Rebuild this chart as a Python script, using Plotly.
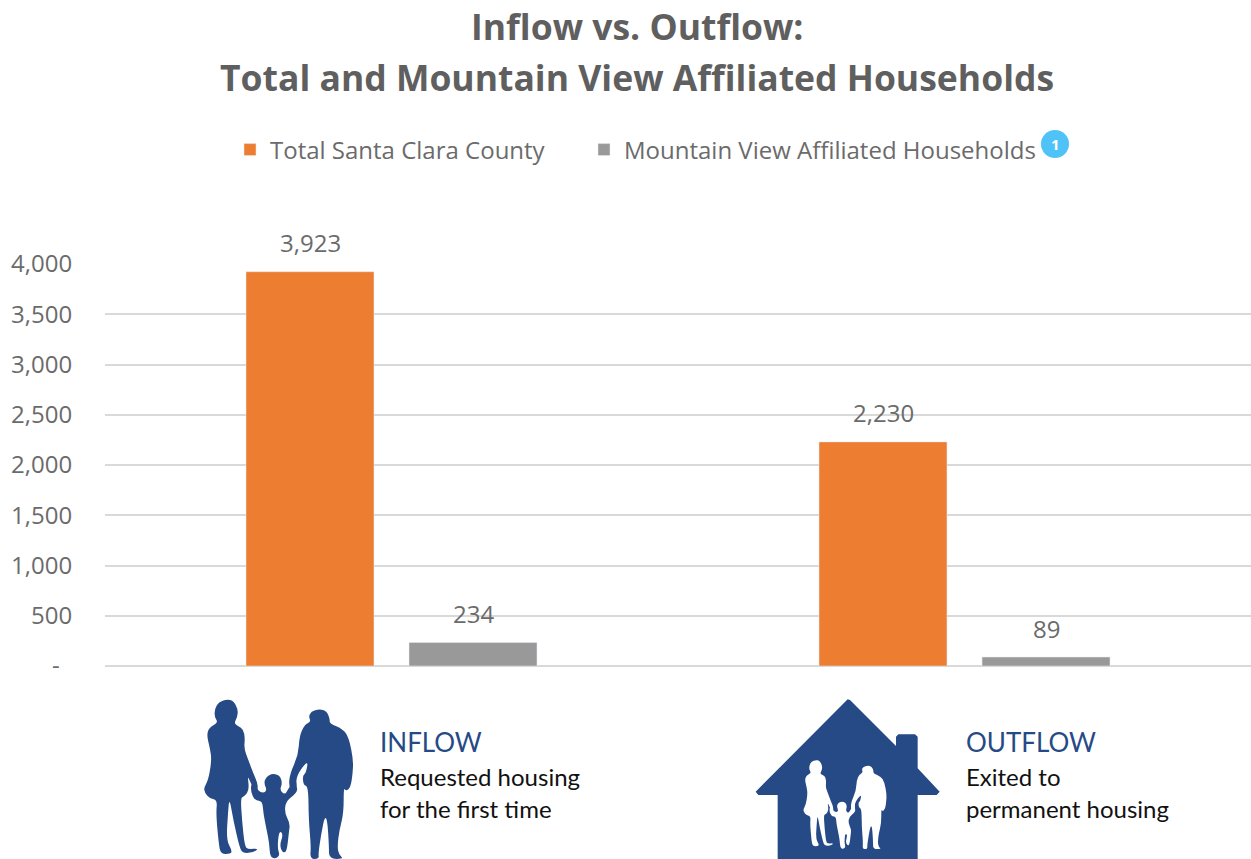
import plotly.graph_objects as go

# Chart data
categories = ["Inflow", "Outflow"]
total_county = [3923, 2230]
mountain_view = [234, 89]
total_labels = ["3,923", "2,230"]
mountain_view_labels = ["234", "89"]
tick_values = [0, 500, 1000, 1500, 2000, 2500, 3000, 3500, 4000]
tick_labels = ["-\u00a0\u00a0", "500", "1,000", "1,500", "2,000", "2,500", "3,000", "3,500", "4,000"]

WIDTH, HEIGHT = 1251, 859
MARGIN_L, MARGIN_T, MARGIN_B = 105, 264, 193
PLOT_W = WIDTH - MARGIN_L
PLOT_H = HEIGHT - MARGIN_T - MARGIN_B

ORANGE = "#ED7D31"
GREY = "#999999"
NAVY = "#264A85"
TEXT_GREY = "#6b6b6b"
FONT = "Open Sans"
CAPTION_FONT = "Lato"
BAR_OFFSET = 81.5   # pixels from a category centre to the centre of each bar in its group
LABEL_LIFT = 29     # pixels from a bar top to the middle of its value label

# Silhouette outlines, in a local 3x drawing grid
woman = [(140,58),(160,62),(174,88),(172,112),(162,130),(175,138),(190,148),(195,175),(192,205),(205,240),
         (220,280),(234,312),(230,335),(216,318),(202,285),(207,320),(202,340),(190,350),(182,355),(186,420),
         (194,498),(204,508),(236,505),(222,517),(188,520),(178,500),(160,420),(148,352),(144,400),(139,480),
         (156,512),(152,522),(122,522),(116,490),(108,400),(112,360),(90,356),(74,338),(72,322),(85,300),
         (95,240),(90,205),(80,165),(88,142),(115,128),(103,110),(105,85),(116,66)]
man = [(418,87),(440,93),(450,118),(448,130),(490,148),(507,175),(520,240),(518,280),(512,322),(498,334),
       (491,322),(491,400),(478,450),(472,500),(477,525),(492,537),(447,537),(447,500),
       (442,420),(434,410),(424,460),(415,520),(417,537),(390,537),(393,500),(386,420),(385,320),(370,315),
       (368,285),(378,280),(385,238),(347,290),(352,325),(340,340),(326,320),(330,280),(355,225),(358,170),
       (373,135),(393,125),(386,110),(393,95)]
child = [(278,280),(300,287),(307,310),(299,330),(315,345),(325,325),(340,308),(354,325),(346,342),(317,365),
         (314,400),(330,430),(327,455),(320,517),(307,517),(299,495),(310,462),(297,452),(292,505),(300,525),
         (286,537),(270,530),(268,490),(260,450),(250,400),(247,362),(225,362),(212,335),(214,308),(233,310),
         (231,330),(250,340),(261,330),(252,310),(257,291)]
house = [(323,58),(47,335),(55,345),(113,345),(113,537),(533,537),(533,345),(590,345),(599,335),(533,265),
         (533,170),(525,163),(475,163),(468,170),(468,198),(330,60)]


def page_x(px):
    return (px - MARGIN_L) / PLOT_W


def page_y(py):
    return (HEIGHT - MARGIN_B - py) / PLOT_H


def polygon(points, fill, scale, dx, dy):
    """Straight-edged closed path placed on the page in paper space."""
    parts = []
    for i, (x, y) in enumerate(points):
        parts.append(("M" if i == 0 else "L") + f"{page_x(x * scale + dx):.5f},{page_y(y * scale + dy):.5f}")
    return dict(type="path", xref="paper", yref="paper", path=" ".join(parts) + " Z",
                fillcolor=fill, line=dict(width=0), layer="above")


def smooth(points, fill, scale, dx, dy):
    """Rounded closed path: quadratic segments through the midpoints of the outline's edges."""
    placed = [(page_x(x * scale + dx), page_y(y * scale + dy)) for x, y in points]
    n = len(placed)
    mids = [((placed[i][0] + placed[(i + 1) % n][0]) / 2, (placed[i][1] + placed[(i + 1) % n][1]) / 2)
            for i in range(n)]
    path = f"M{mids[-1][0]:.5f},{mids[-1][1]:.5f}"
    for i in range(n):
        path += f" Q{placed[i][0]:.5f},{placed[i][1]:.5f} {mids[i][0]:.5f},{mids[i][1]:.5f}"
    return dict(type="path", xref="paper", yref="paper", path=path + " Z",
                fillcolor=fill, line=dict(width=0), layer="above")


def caption(x, y, text, size, color):
    return dict(xref="paper", yref="paper", x=page_x(x), y=page_y(y), text=text, showarrow=False,
                xanchor="left", yanchor="middle", align="left",
                font=dict(family=CAPTION_FONT, size=size, color=color))


def title_line(y, text):
    return dict(xref="paper", yref="paper", x=page_x(637), y=page_y(y), text=text, showarrow=False,
                xanchor="center", yanchor="middle",
                font=dict(family=FONT, size=35.5, color="#5f5f5f", weight="bold"))


def value_label(category, value, text, shift):
    return dict(x=category, y=value, text=text, showarrow=False, xshift=shift, yshift=LABEL_LIFT,
                xanchor="center", yanchor="middle",
                font=dict(family=FONT, size=24, color=TEXT_GREY))


def legend_box(left):
    return dict(x=page_x(left), y=page_y(150), xanchor="left", yanchor="middle", bgcolor="rgba(0,0,0,0)",
                font=dict(family=FONT, size=24, color=TEXT_GREY))


fig = go.Figure()
fig.add_trace(go.Bar(name="Total Santa Clara County", x=categories, y=total_county, marker_color=ORANGE,
                     showlegend=True, legend="legend"))
fig.add_trace(go.Bar(name="Mountain View Affiliated Households", x=categories, y=mountain_view, marker_color=GREY,
                     showlegend=True, legend="legend2"))

# Family figures and house icon
family_scale = 1 / 3
shapes = [smooth(p, NAVY, family_scale, 180, 680) for p in (woman, man, child)]
shapes.append(polygon(house, NAVY, family_scale, 740, 680))
small = 0.558 / 3
ox = 740 + (190 - 72 * 0.558) / 3
oy = 680 + (240 - 58 * 0.558) / 3
shapes += [smooth(p, "white", small, ox, oy) for p in (woman, man, child)]

# Footnote badge beside the legend
shapes.append(dict(type="circle", xref="paper", yref="paper", x0=page_x(1041), x1=page_x(1069),
                   y0=page_y(158), y1=page_y(130), fillcolor="#4FC3F7", line=dict(width=0), layer="above"))

annotations = [
    title_line(26, "Inflow vs. Outflow:"),
    title_line(77, "Total and Mountain View Affiliated Households"),
    dict(xref="paper", yref="paper", x=page_x(1055), y=page_y(144), text="<b>1</b>", showarrow=False,
         xanchor="center", yanchor="middle", font=dict(family=FONT, size=15, color="white")),
    caption(378, 742, "INFLOW", 26, NAVY),
    caption(378, 776, "Requested housing", 24, "#111111"),
    caption(378, 808, "for the first time", 24, "#111111"),
    caption(964, 742, "OUTFLOW", 26, NAVY),
    caption(964, 776, "Exited to", 24, "#111111"),
    caption(964, 808, "permanent housing", 24, "#111111"),
]
for cat, val, txt in zip(categories, total_county, total_labels):
    annotations.append(value_label(cat, val, txt, -BAR_OFFSET))
for cat, val, txt in zip(categories, mountain_view, mountain_view_labels):
    annotations.append(value_label(cat, val, txt, BAR_OFFSET))

fig.update_layout(
    width=WIDTH, height=HEIGHT,
    margin=dict(l=MARGIN_L, r=0, t=MARGIN_T, b=MARGIN_B, pad=0),
    paper_bgcolor="white", plot_bgcolor="white",
    barmode="group", bargap=0.431, bargroupgap=0.215,
    font=dict(family=FONT, color=TEXT_GREY),
    legend=legend_box(230),
    legend2=legend_box(584),
    shapes=shapes, annotations=annotations,
    xaxis=dict(showticklabels=False, showgrid=False, zeroline=False, ticks="", showline=False),
    yaxis=dict(range=[0, 4000], tickvals=tick_values, ticktext=tick_labels, ticks="outside", ticklen=27,
               tickcolor="rgba(0,0,0,0)", gridcolor="#D9D9D9", gridwidth=2, zeroline=True,
               zerolinecolor="#D9D9D9", zerolinewidth=2, showline=False,
               tickfont=dict(family=FONT, size=24, color=TEXT_GREY)),
)

fig.write_html("out.html", config=dict(displayModeBar=False))
